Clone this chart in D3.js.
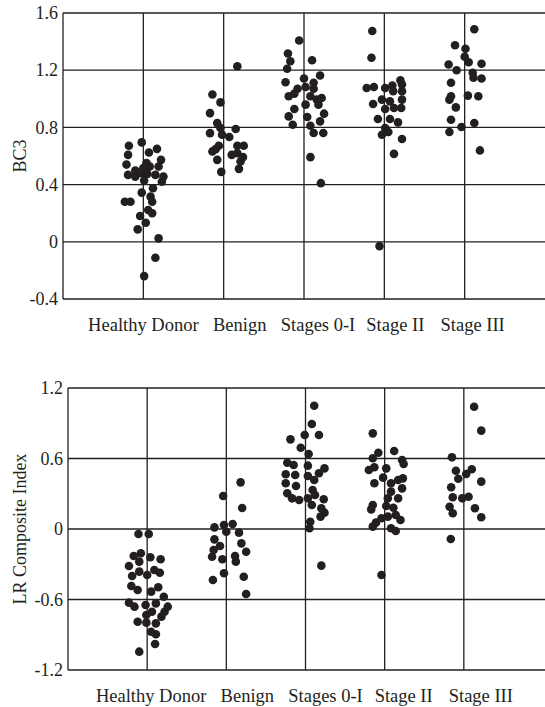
<!DOCTYPE html>
<html>
<head>
<meta charset="utf-8">
<script src="https://cdn.jsdelivr.net/npm/d3@7"></script>
<style>
  body { margin: 0; background: #fff; }
  text { font-family: "Liberation Serif", "Times New Roman", serif; fill: #231f20; }
</style>
</head>
<body>
<div id="chart"></div>
<script>
const categories = ["Healthy Donor", "Benign", "Stages 0-I", "Stage II", "Stage III"];

// each point: [jitter offset in category units, value]
const bc3Healthy = [[-0.18,0.672],[-0.02,0.695],[0.17,0.65],[0.07,0.625],[-0.19,0.608],[0.22,0.573],[-0.21,0.54],[0.04,0.55],
  [0.19,0.526],[-0.10,0.498],[0,0.515],[0.08,0.526],[-0.19,0.468],[-0.10,0.456],[-0.02,0.48],[0.05,0.475],[0.15,0.468],
  [0.25,0.456],[0.23,0.42],[0.01,0.428],[0.12,0.375],[-0.02,0.344],[-0.23,0.28],[-0.16,0.28],[0.09,0.316],[0.11,0.28],
  [0.06,0.222],[0.11,0.2],[-0.04,0.18],[0.03,0.133],[-0.07,0.087],[0.19,0.024],[0.15,-0.112],[0.01,-0.24]];
const bc3Benign = [[0.17,1.228],[-0.14,1.03],[-0.04,0.975],[-0.17,0.90],[-0.08,0.83],[-0.04,0.796],[0.15,0.789],[-0.17,0.76],
  [-0.02,0.749],[0.07,0.733],[-0.06,0.672],[0.17,0.672],[0.25,0.672],[-0.14,0.632],[-0.10,0.648],[0.10,0.608],[0.24,0.592],
  [0.17,0.62],[-0.08,0.573],[0.21,0.561],[0.19,0.51],[-0.03,0.489]];
const bc3Stage0I = [[-0.06,1.408],[-0.20,1.317],[-0.17,1.263],[0.10,1.27],[-0.21,1.21],[0.20,1.163],[-0.23,1.116],[0,1.142],
  [0.12,1.112],[-0.08,1.07],[0.02,1.083],[0.12,1.07],[-0.19,1.018],[-0.12,1.036],[0.08,1.018],[0.22,1.006],[0.16,0.994],
  [0.02,0.959],[0.18,0.959],[-0.12,0.929],[0.25,0.896],[-0.19,0.877],[0.04,0.873],[-0.14,0.819],[0.20,0.842],[0.08,0.812],
  [0.12,0.761],[0.24,0.761],[0.08,0.592],[0.21,0.41]];
const bc3Stage2 = [[-0.15,1.474],[-0.16,1.287],[-0.22,1.076],[-0.13,1.083],[0.01,1.076],[0.10,1.093],[0.20,1.13],[0.22,1.10],
  [0.11,1.053],[0.22,1.053],[-0.03,0.994],[0.07,0.982],[0.22,0.994],[-0.14,0.964],[0.01,0.929],[0.12,0.936],[0.21,0.936],
  [-0.08,0.859],[0.07,0.859],[0.17,0.835],[0.01,0.796],[0.05,0.768],[-0.03,0.749],[0.22,0.719],[0.12,0.615],[-0.06,-0.03]];
const bc3Stage3 = [[0.12,1.486],[-0.12,1.375],[0.01,1.35],[0,1.294],[0.05,1.256],[-0.20,1.24],[0.21,1.245],[-0.10,1.2],
  [0.10,1.182],[0.11,1.147],[0.21,1.142],[-0.17,1.112],[-0.17,1.018],[-0.19,0.994],[0.04,1.022],[0.17,1.018],[-0.11,0.94],
  [-0.17,0.854],[-0.04,0.803],[0.12,0.831],[-0.19,0.768],[0.19,0.639]];

const lrHealthy = [[-0.11,-0.043],[0.02,-0.043],[-0.17,-0.23],[-0.08,-0.207],[0.04,-0.241],[0.17,-0.258],[-0.23,-0.315],
  [-0.10,-0.278],[-0.10,-0.363],[0,-0.391],[0.09,-0.349],[0.16,-0.372],[-0.19,-0.40],[-0.20,-0.485],[-0.12,-0.519],
  [0.05,-0.533],[0.14,-0.496],[0.21,-0.576],[-0.23,-0.627],[-0.16,-0.661],[-0.02,-0.647],[0.11,-0.633],[0.26,-0.661],
  [0.22,-0.704],[-0.01,-0.732],[0.06,-0.704],[0.18,-0.746],[-0.12,-0.789],[-0.01,-0.797],[0.11,-0.803],[0.05,-0.874],
  [0.11,-0.896],[0.10,-0.979],[-0.10,-1.044]];
const lrBenign = [[0.18,0.397],[-0.04,0.281],[0.20,0.179],[-0.15,0.014],[-0.03,0.034],[0.08,0.043],[0,-0.023],[0.16,-0.031],
  [-0.15,-0.088],[0.19,-0.122],[-0.08,-0.145],[-0.16,-0.179],[0.25,-0.193],[-0.18,-0.236],[-0.05,-0.258],[0.11,-0.23],
  [0.12,-0.278],[-0.03,-0.377],[-0.17,-0.434],[0.22,-0.406],[0.25,-0.553]];
const lrStage0I = [[0.11,1.049],[0.08,0.894],[-0.19,0.763],[-0.01,0.80],[0.17,0.80],[-0.06,0.692],[0.04,0.638],[-0.23,0.564],
  [-0.15,0.545],[0.03,0.539],[-0.25,0.466],[-0.13,0.46],[0.03,0.451],[0.24,0.516],[0.17,0.474],[0.11,0.417],[-0.25,0.389],
  [-0.12,0.366],[0.09,0.332],[-0.23,0.304],[-0.08,0.247],[-0.17,0.261],[0.03,0.261],[0.12,0.289],[0.23,0.253],[0.08,0.204],
  [0.20,0.176],[0.24,0.139],[0.19,0.105],[0.06,0.062],[0.05,0.006],[0.20,-0.312]];
const lrStage2 = [[-0.15,0.814],[-0.08,0.649],[-0.15,0.602],[0.12,0.664],[0.22,0.587],[0.24,0.553],[-0.13,0.525],[-0.20,0.502],
  [0.02,0.516],[-0.02,0.437],[-0.13,0.389],[0.08,0.389],[0.17,0.417],[0.23,0.431],[0.22,0.346],[0.08,0.318],[0.04,0.261],
  [0.17,0.261],[-0.15,0.204],[-0.17,0.167],[0.02,0.196],[0.11,0.181],[0.04,0.105],[0.14,0.119],[0.20,0.077],[-0.04,0.091],
  [-0.11,0.054],[-0.15,0.02],[0.14,-0.017],[0.08,0.006],[-0.04,-0.391]];
const lrStage3 = [[0.13,1.04],[0.22,0.837],[-0.15,0.61],[-0.10,0.496],[0.10,0.508],[0.03,0.468],[-0.07,0.428],[0.22,0.403],
  [-0.16,0.355],[-0.14,0.27],[-0.02,0.261],[0.06,0.275],[-0.18,0.19],[0.14,0.176],[-0.14,0.134],[0.22,0.10],[-0.165,-0.085]];

const bc3Ticks = [-0.4, 0, 0.4, 0.8, 1.2, 1.6];
const lrTicks = [-1.2, -0.6, 0, 0.6, 1.2];

const W = 545, H = 707;
const ink = "#231f20";

const panels = [
  { title: "BC3", groups: [bc3Healthy, bc3Benign, bc3Stage0I, bc3Stage2, bc3Stage3], ticks: bc3Ticks,
    left: 63, right: 545, top: 13, bottom: 299, labelY: 331, labelShift: [0, 16, 14, 11, 8] },
  { title: "LR Composite Index", groups: [lrHealthy, lrBenign, lrStage0I, lrStage2, lrStage3], ticks: lrTicks,
    left: 68, right: 543, top: 388, bottom: 670, labelY: 702, labelShift: [4, 21, 20, 19, 17] }
];

const svg = d3.select("#chart")
    .append("svg")
    .attr("width", W)
    .attr("height", H);

panels.forEach(p => {
    const x = d3.scaleLinear().domain([-1, 5]).range([p.left, p.right]);
    const y = d3.scaleLinear().domain(d3.extent(p.ticks)).range([p.bottom, p.top]);
    const g = svg.append("g");

    // horizontal grid (includes top and bottom border)
    g.selectAll("line.h")
        .data(p.ticks)
        .join("line")
        .attr("x1", p.left).attr("x2", W)
        .attr("y1", d => y(d)).attr("y2", d => y(d))
        .attr("stroke", ink).attr("stroke-width", 1.3);

    // vertical lines: left border + one per category
    g.selectAll("line.v")
        .data([-1, 0, 1, 2, 3, 4])
        .join("line")
        .attr("x1", d => x(d)).attr("x2", d => x(d))
        .attr("y1", p.top).attr("y2", p.bottom)
        .attr("stroke", ink).attr("stroke-width", 1.3);

    // y axis labels
    const yAxis = g.append("g")
        .attr("transform", `translate(${p.left},0)`)
        .call(d3.axisLeft(y).tickValues(p.ticks).tickSize(0).tickPadding(5).tickFormat(d => String(d)));
    yAxis.select(".domain").remove();
    yAxis.selectAll("text")
        .attr("font-family", "Liberation Serif, serif")
        .attr("font-size", 18)
        .attr("fill", ink);

    // category labels
    g.selectAll("text.cat")
        .data(categories)
        .join("text")
        .attr("x", (d, i) => x(i) + p.labelShift[i])
        .attr("y", p.labelY)
        .attr("text-anchor", "middle")
        .attr("font-size", 18.5)
        .text(d => d);

    // y title
    g.append("text")
        .attr("transform", `translate(26,${(p.top + p.bottom) / 2}) rotate(-90)`)
        .attr("text-anchor", "middle")
        .attr("font-size", 18)
        .text(p.title);

    // dots
    p.groups.forEach((pts, i) => {
        g.selectAll(null)
            .data(pts)
            .join("circle")
            .attr("cx", d => x(i + d[0]))
            .attr("cy", d => y(d[1]))
            .attr("r", 4.3)
            .attr("fill", ink);
    });
});
</script>
</body>
</html>
